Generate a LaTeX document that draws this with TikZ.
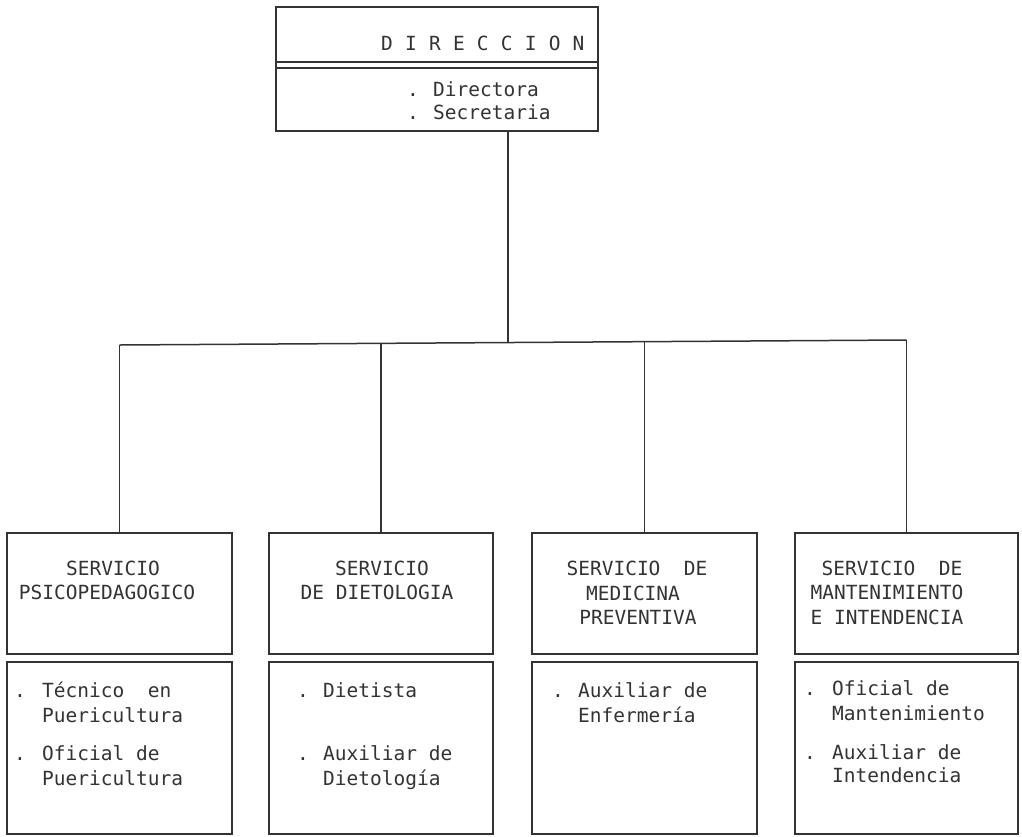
\documentclass[tikz,border=0pt]{standalone}
\usepackage{fontspec}
\newfontfamily\tw{DejaVu Sans Mono}
\definecolor{ink}{HTML}{333333}
\newcommand\lsp{\hspace{12.2pt}}
\begin{document}
\begin{tikzpicture}[x=1pt,y=-1pt,
  box/.style={draw=ink,line width=1.6pt,rectangle,inner sep=0pt},
  conn/.style={draw=ink,line width=1.5pt},
  txt/.style={text=ink,inner sep=0pt,font=\tw\fontsize{19.5}{24}\selectfont},
  ttl/.style={txt,anchor=base},
  itm/.style={txt,anchor=base west},
  dot/.style={txt,anchor=base}]
\useasboundingbox (0,0) rectangle (1022,836);
% top box
\node[box,minimum width=322pt,minimum height=124pt] (dir) at (437,69) {};
\draw[ink,line width=1.4pt] (dir.west |- 0,62) -- (dir.east |- 0,62);
\draw[ink,line width=1.4pt] (dir.west |- 0,68) -- (dir.east |- 0,68);
\node[itm] (tdir) at (381,50) {D\lsp I\lsp R\lsp E\lsp C\lsp C\lsp I\lsp O\lsp N};
\node[dot] (d0a) at (413,96) {.};
\node[itm] (t0a) at (433,96) {Directora};
\node[dot] (d0b) at (413,119) {.};
\node[itm] (t0b) at (433,119) {Secretaria};
% service boxes (upper)
\node[box,minimum width=225pt,minimum height=121pt] (s1) at (119.5,593.5) {};
\node[box,minimum width=224pt,minimum height=121pt] (s2) at (381,593.5) {};
\node[box,minimum width=225pt,minimum height=121pt] (s3) at (644.5,593.5) {};
\node[box,minimum width=223pt,minimum height=121pt] (s4) at (906.5,593.5) {};
% staff boxes (lower)
\node[box,minimum width=225pt,minimum height=172pt] (p1) at (119.5,748) {};
\node[box,minimum width=224pt,minimum height=172pt] (p2) at (381,748) {};
\node[box,minimum width=225pt,minimum height=172pt] (p3) at (644.5,748) {};
\node[box,minimum width=223pt,minimum height=172pt] (p4) at (906.5,748) {};
% connectors
\coordinate (h1) at (119.5,345);
\coordinate (h2) at (381,343.4);
\coordinate (j) at (508,342.6);
\coordinate (h3) at (644.5,341.7);
\coordinate (h4) at (906.5,340);
\draw[conn] (dir.south -| j) -- (j);
\draw[conn] (h1) -- (h4);
\draw[conn] (h1) -- (s1.north);
\draw[conn] (h2) -- (s2.north);
\draw[conn] (h3) -- (s3.north);
\draw[conn] (h4) -- (s4.north);
% service titles
\node[ttl] (a1) at (113,575) {SERVICIO};
\node[ttl] (a2) at (107,599) {PSICOPEDAGOGICO};
\node[ttl] (b1) at (382,575) {SERVICIO};
\node[ttl] (b2) at (377,599) {DE DIETOLOGIA};
\node[ttl] (c1) at (637,575) {SERVICIO~~DE};
\node[ttl] (c2) at (633,600) {MEDICINA};
\node[ttl] (c3) at (638,624) {PREVENTIVA};
\node[ttl] (e1) at (892,575) {SERVICIO~~DE};
\node[ttl] (e2) at (887,599) {MANTENIMIENTO};
\node[ttl] (e3) at (887,624) {E INTENDENCIA};
% staff lists
\node[dot] (d1a) at (20,697) {.};
\node[itm] (t1a) at (42,697) {Técnico~~en};
\node[itm] (t1b) at (42,722) {Puericultura};
\node[dot] (d1c) at (20,760) {.};
\node[itm] (t1c) at (42,760) {Oficial de};
\node[itm] (t1d) at (42,785) {Puericultura};
\node[dot] (d2a) at (303,697) {.};
\node[itm] (t2a) at (323,697) {Dietista};
\node[dot] (d2b) at (303,760) {.};
\node[itm] (t2b) at (323,760) {Auxiliar de};
\node[itm] (t2c) at (323,785) {Dietología};
\node[dot] (d3a) at (558,697) {.};
\node[itm] (t3a) at (578,697) {Auxiliar de};
\node[itm] (t3b) at (578,722) {Enfermería};
\node[dot] (d4a) at (810,695) {.};
\node[itm] (t4a) at (832,695) {Oficial de};
\node[itm] (t4b) at (832,720) {Mantenimiento};
\node[dot] (d4c) at (810,759) {.};
\node[itm] (t4c) at (832,759) {Auxiliar de};
\node[itm] (t4d) at (832,782) {Intendencia};
\end{tikzpicture}
\end{document}
